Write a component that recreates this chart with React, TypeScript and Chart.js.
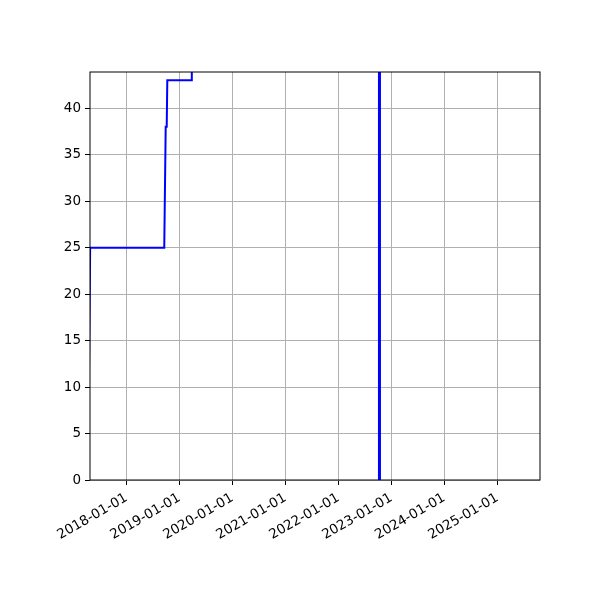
import { useEffect, useRef } from 'react';
import { Chart, registerables } from 'chart.js';

Chart.register(...registerables);

// main series (step-like line), dates as YYYY-MM-DD
const seriesDates = [
  '2017-04-10',
  '2017-04-25',
  '2018-09-18',
  '2018-09-28',
  '2018-10-05',
  '2018-10-09',
  '2019-03-26',
  '2019-03-27',
];
const seriesValues = [0, 25, 25, 38, 38, 43, 43, 80];

// thick vertical marker
const markerDate = '2022-10-11';
const markerValues = [0, 80];

const xMinDate = '2017-04-24';
const xMaxDate = '2025-10-22';
const yMax = 43.9;
const yTicks = [0, 5, 10, 15, 20, 25, 30, 35, 40];
const xTickYears = [2018, 2019, 2020, 2021, 2022, 2023, 2024, 2025];

const toMs = (s: string) => {
  const [y, m, d] = s.split('-').map(Number);
  return Date.UTC(y, m - 1, d);
};

const fmt = (ms: number) => {
  const d = new Date(ms);
  const mm = String(d.getUTCMonth() + 1).padStart(2, '0');
  const dd = String(d.getUTCDate()).padStart(2, '0');
  return `${d.getUTCFullYear()}-${mm}-${dd}`;
};

const frame = {
  id: 'frame',
  afterDatasetsDraw(chart: Chart) {
    const { ctx, chartArea } = chart;
    ctx.save();
    ctx.strokeStyle = '#000';
    ctx.lineWidth = 1;
    ctx.strokeRect(chartArea.left, chartArea.top, chartArea.right - chartArea.left, chartArea.bottom - chartArea.top);
    ctx.restore();
  },
};

export default function App() {
  const canvasRef = useRef<HTMLCanvasElement>(null);
  const chartRef = useRef<Chart | null>(null);

  useEffect(() => {
    document.body.style.margin = '0';
    if (!canvasRef.current) return;
    if (chartRef.current) chartRef.current.destroy();

    const font = { family: 'DejaVu Sans', size: 13.5 };

    chartRef.current = new Chart(canvasRef.current, {
      type: 'line',
      data: {
        datasets: [
          {
            data: seriesDates.map((d, i) => ({ x: toMs(d), y: seriesValues[i] })),
            borderColor: 'blue',
            borderWidth: 2,
            pointRadius: 0,
            tension: 0,
            clip: 0,
          },
          {
            data: markerValues.map(v => ({ x: toMs(markerDate), y: v })),
            borderColor: 'blue',
            borderWidth: 3,
            pointRadius: 0,
            clip: 0,
          },
        ],
      },
      plugins: [frame],
      options: {
        animation: false,
        responsive: false,
        devicePixelRatio: 1,
        layout: { padding: { left: 0, right: 60, top: 72, bottom: 0 } },
        plugins: { legend: { display: false }, tooltip: { enabled: false } },
        scales: {
          x: {
            type: 'linear',
            min: toMs(xMinDate),
            max: toMs(xMaxDate),
            afterBuildTicks: (scale: any) => {
              scale.ticks = xTickYears.map(y => ({ value: Date.UTC(y, 0, 1) }));
            },
            afterFit: (scale: any) => {
              scale.height = 120;
            },
            grid: {
              color: '#b0b0b0',
              lineWidth: 1,
              tickColor: '#000',
              tickLength: 5,
            },
            border: { display: false },
            ticks: {
              callback: (v: any) => fmt(Number(v)),
              minRotation: 30,
              maxRotation: 30,
              autoSkip: false,
              color: '#000',
              font,
              padding: 5,
            },
          },
          y: {
            min: 0,
            max: yMax,
            afterBuildTicks: (scale: any) => {
              scale.ticks = yTicks.map(v => ({ value: v }));
            },
            afterFit: (scale: any) => {
              scale.width = 90;
            },
            grid: {
              color: '#b0b0b0',
              lineWidth: 1,
              tickColor: '#000',
              tickLength: 5,
            },
            border: { display: false },
            ticks: {
              color: '#000',
              font,
              padding: 4,
            },
          },
        },
      },
    });

    return () => {
      if (chartRef.current) {
        chartRef.current.destroy();
        chartRef.current = null;
      }
    };
  }, []);

  return (
    <div style={{ width: 600, height: 600, background: '#fff' }}>
      <canvas ref={canvasRef} width={600} height={600}></canvas>
    </div>
  );
}
